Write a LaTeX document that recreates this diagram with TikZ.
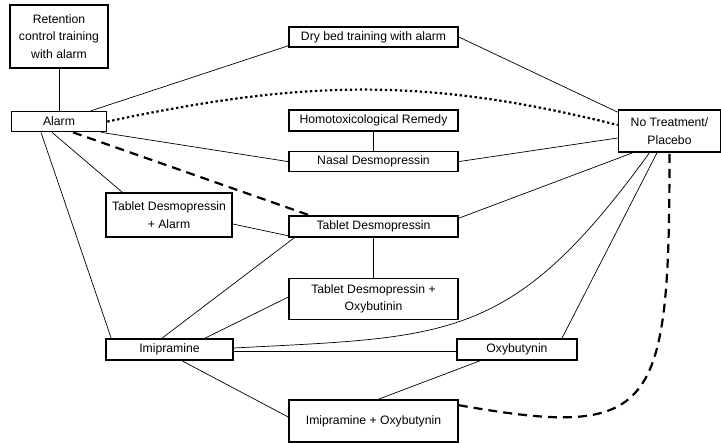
\documentclass[tikz,border=0pt]{standalone}
\usepackage{fontspec}
\setmainfont{Liberation Sans}
\usetikzlibrary{positioning}

\begin{document}
\begin{tikzpicture}[x=1pt, y=1pt, node distance=19pt and 19pt]
        % Styles
        \tikzstyle{box} = [rectangle, draw, line width=1.6pt, align=center,
            inner sep=0pt, minimum height=21pt, font=\fontsize{12.2}{17.5}\selectfont]
        \tikzstyle{widebox} = [box, minimum width=169pt]
        \tikzstyle{line} = [draw, line width=0.7pt]
        \tikzstyle{dottedline} = [draw, line width=2.2pt, dash pattern=on 2.4pt off 2.6pt]
        \tikzstyle{dashedline} = [draw, line width=2.2pt, dash pattern=on 9pt off 6pt]

        \useasboundingbox (0,0) rectangle (721,443);

        % Nodes
        \node [box, minimum width=98pt, minimum height=63pt] (retention) at (59,406.5)
            {Retention\\control training\\with alarm};
        \node [box, minimum width=95pt, minimum height=20pt, below=42pt of retention] (alarm) {Alarm};
        \node [widebox, minimum height=20pt] (drybed) at (373.5,406) {Dry bed training with alarm};
        \node [widebox] (homotox) at (373.5,322.5) {Homotoxicological Remedy};
        \node [widebox, minimum height=20pt, below=of homotox] (nasal) {Nasal Desmopressin};
        \node [box, minimum width=102pt, minimum height=42pt] (notreat) at (669.5,312)
            {No Treatment/\\Placebo};
        \node [box, minimum width=126pt, minimum height=44pt] (tdalarm) at (169,228)
            {Tablet Desmopressin\\+ Alarm};
        \node [widebox] (tabdesm) at (373.5,216.5) {Tablet Desmopressin};
        \node [widebox, minimum height=41pt, below=40pt of tabdesm] (tdoxy)
            {Tablet Desmopressin +\\Oxybutinin};
        \node [box, minimum width=127pt] (imip) at (169.5,93.5) {Imipramine};
        \node [box, minimum width=120pt] (oxy) at (517,93.5) {Oxybutynin};
        \node [widebox, minimum height=42pt] (imoxy) at (373.5,22) {Imipramine + Oxybutynin};

        % Connections
        \path [line] (retention.south) -- (alarm.north);
        \path [line] ([xshift=32pt]alarm.north) -- ([yshift=2pt]drybed.south west);
        \path [line] (drybed.east) -- ([yshift=-3pt]notreat.north west);
        \path [dottedline] (alarm.east) to[out=12, in=166] ([yshift=6pt]notreat.west);
        \path [line] ([xshift=-6pt]alarm.south east) -- (nasal.west);
        \path [line] (homotox.south) -- (nasal.north);
        \path [line] (nasal.east) -- ([yshift=-7pt]notreat.west);
        \path [dashedline] ([xshift=14pt]alarm.south) -- ([xshift=21pt]tabdesm.north west);
        \path [line] ([xshift=-7pt]alarm.south) -- ([xshift=17pt]tdalarm.north west);
        \path [line] ([xshift=-18pt]alarm.south) -- ([xshift=6pt]imip.north west);
        \path [line] ([yshift=-9pt]tdalarm.east) -- ([yshift=2pt]tabdesm.south west);
        \path [line] ([yshift=-3pt]tabdesm.north east) -- ([xshift=15pt]notreat.south west);
        \path [line] (tabdesm.south) -- (tdoxy.north);
        \path [line] ([xshift=6pt]tabdesm.south west) -- ([xshift=-7.5pt]imip.north);
        \path [line] ([yshift=2pt]tdoxy.west) -- ([xshift=35.5pt]imip.north);
        \path [line] ([yshift=1.5pt]imip.east) to[out=3, in=-126, out distance=217pt,
            in distance=234pt] ([xshift=-20pt]notreat.south);
        \path [line] ([yshift=-2pt]imip.east) -- ([yshift=-2pt]oxy.west);
        \path [line] ([xshift=45pt]oxy.north) -- ([xshift=-12.5pt]notreat.south);
        \path [line] ([xshift=-37pt]oxy.south) -- ([xshift=5pt]imoxy.north);
        \path [line] ([xshift=12.5pt]imip.south) -- ([yshift=4pt]imoxy.west);
        \path [dashedline] ([yshift=-6pt]imoxy.north east) to[out=-10, in=-90,
            out distance=200pt, in distance=260pt] (notreat.south);
    \end{tikzpicture}
\end{document}
